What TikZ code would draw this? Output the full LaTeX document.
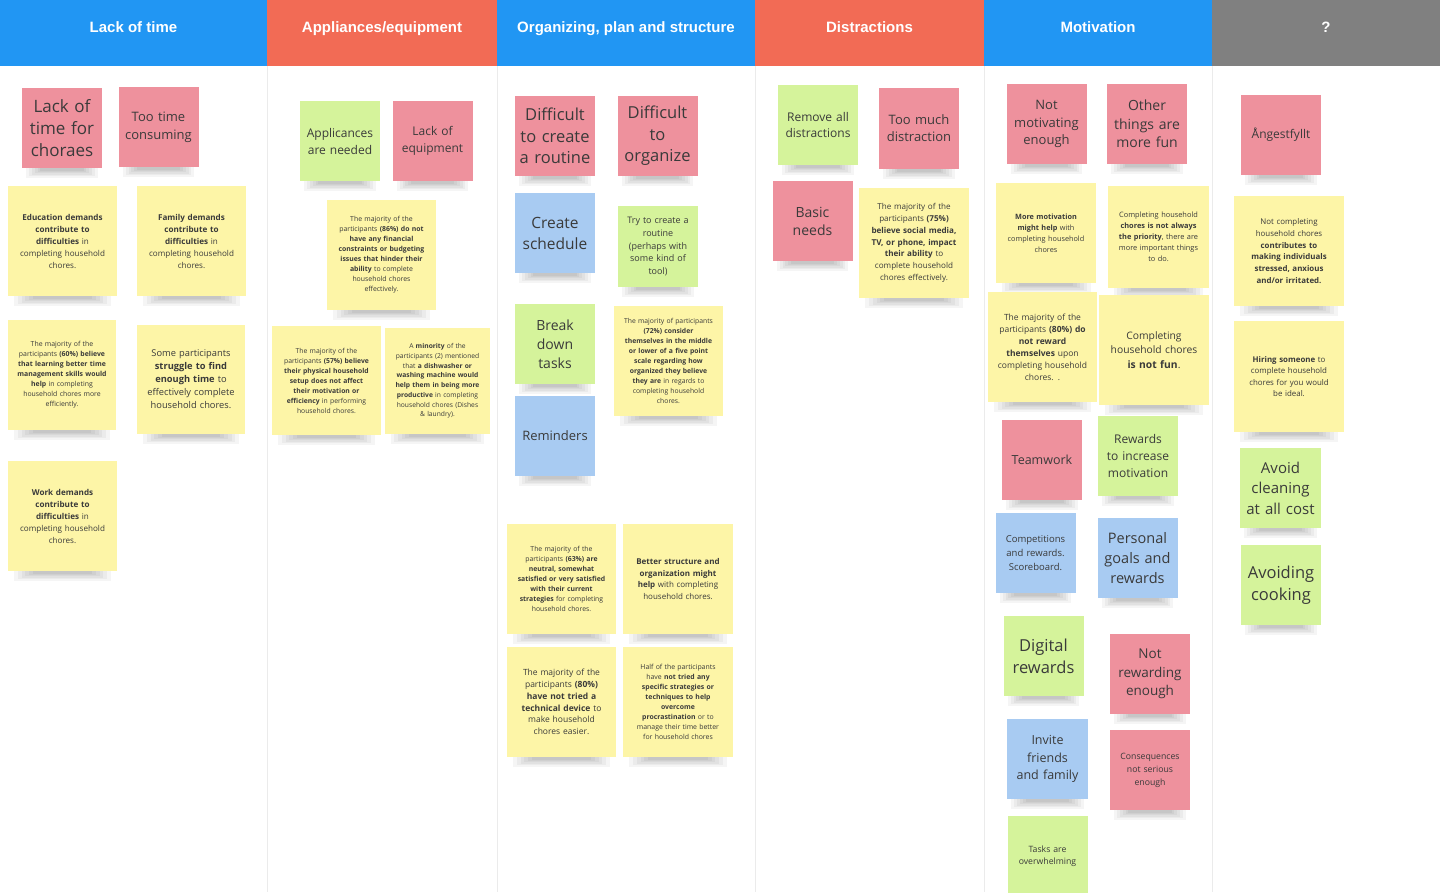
\documentclass[tikz,border=0pt]{standalone}
\usepackage{fontspec}
\setmainfont{Open Sans}
\newfontfamily\hdrfont{Liberation Sans}
\definecolor{hblue}{HTML}{2196F3}
\definecolor{hred}{HTML}{F26B55}
\definecolor{hgray}{HTML}{808080}
\definecolor{npink}{HTML}{EE919D}
\definecolor{nyellow}{HTML}{FDF5A7}
\definecolor{ngreen}{HTML}{D5F39B}
\definecolor{nblue}{HTML}{A8CBF2}
\definecolor{ntext}{HTML}{3A3A3A}
\definecolor{sepline}{HTML}{EBEBEB}
\newcommand{\fs}[2]{\fontsize{#1}{#2}\selectfont}
\tikzset{
  x=1pt, y=-1pt,
  hdrtext/.style={text=white, anchor=base, font=\hdrfont\bfseries\fontsize{15}{17}\selectfont},
  sticknode/.style={inner sep=0pt, align=center, text=ntext},
  sepstyle/.style={draw=sepline, line width=1pt},
}
\newcommand{\sticky}[8]{%
  \foreach \i in {1,...,6}{%
    \fill[black,opacity=.04] ({#3-(0.48-0.035*\i)*#5},{#4+0.5*#6-2}) rectangle ({#3+(0.48-0.035*\i)*#5},{#4+0.5*#6+11-1.4*\i});
  }%
  \node[sticknode, fill=#2, minimum width=#5pt, minimum height=#6pt, text width={#5pt-4pt}, font=#7] (#1) at (#3,#4) {#8};
}
\begin{document}
\begin{tikzpicture}
\useasboundingbox (0,0) rectangle (1440,892);
\fill[white] (0,0) rectangle (1440,892);
% headers
\fill[hblue] (0,0) rectangle (267,66);
\fill[hred] (267,0) rectangle (497,66);
\fill[hblue] (497,0) rectangle (755,66);
\fill[hred] (755,0) rectangle (984,66);
\fill[hblue] (984,0) rectangle (1212,66);
\fill[hgray] (1212,0) rectangle (1440,66);
\node[hdrtext] (h1) at (133.5,32) {Lack of time};
\node[hdrtext] (h2) at (382,32) {Appliances/equipment};
\node[hdrtext] (h3) at (626,32) {Organizing, plan and structure};
\node[hdrtext] (h4) at (869.5,32) {Distractions};
\node[hdrtext] (h5) at (1098,32) {Motivation};
\node[hdrtext] (h6) at (1326,32) {?};
% column separators
\foreach \xx in {267,497,755,984,1212} \draw[sepstyle] (\xx,66) -- (\xx,892);

% Column 1
\sticky{a1}{npink}{62}{128}{80}{80}{\fs{17}{22}}{Lack of\\time for\\choraes}
\sticky{a2}{npink}{158.5}{127}{80}{80}{\fs{13}{18}}{Too time\\consuming}
\sticky{a3}{nyellow}{62.5}{241}{109}{110}{\fs{8.1}{12}}{\textbf{Education demands}\\\textbf{contribute to}\\\textbf{difficulties} in\\completing household\\chores.}
\sticky{a4}{nyellow}{191.5}{241}{109}{110}{\fs{8.1}{12}}{\textbf{Family demands}\\\textbf{contribute to}\\\textbf{difficulties} in\\completing household\\chores.}
\sticky{a5}{nyellow}{62}{375}{108}{110}{\fs{6.9}{10}}{The majority of the\\participants \textbf{(60\%) believe}\\\textbf{that learning better time}\\\textbf{management skills would}\\\textbf{help} in completing\\household chores more\\efficiently.}
\sticky{a6}{nyellow}{191}{379.5}{108}{109}{\fs{9.3}{13}}{Some participants\\\textbf{struggle to find}\\\textbf{enough time} to\\effectively complete\\household chores.}
\sticky{a7}{nyellow}{62.5}{516}{109}{110}{\fs{8.1}{12}}{\textbf{Work demands}\\\textbf{contribute to}\\\textbf{difficulties} in\\completing household\\chores.}

% Column 2
\sticky{b1}{ngreen}{340}{141}{80}{80}{\fs{12}{17}}{Applicances\\are needed}
\sticky{b2}{npink}{432.5}{141}{80}{80}{\fs{12}{17}}{Lack of\\equipment}
\sticky{b3}{nyellow}{381.5}{255}{109}{110}{\fs{6.9}{10}}{The majority of the\\participants \textbf{(86\%) do not}\\\textbf{have any financial}\\\textbf{constraints or budgeting}\\\textbf{issues that hinder their}\\\textbf{ability} to complete\\household chores\\effectively.}
\sticky{b4}{nyellow}{326.5}{380.5}{109}{109}{\fs{6.8}{10}}{The majority of the\\participants \textbf{(57\%) believe}\\\textbf{their physical household}\\\textbf{setup does not affect}\\\textbf{their motivation or}\\\textbf{efficiency} in performing\\household chores.}
\sticky{b5}{nyellow}{437.5}{381}{105}{106}{\fs{6.7}{9.7}}{A \textbf{minority} of the\\participants (2) mentioned\\that \textbf{a dishwasher or}\\\textbf{washing machine would}\\\textbf{help them in being more}\\\textbf{productive} in completing\\household chores (Dishes\\\& laundry).}

% Column 3
\sticky{c1}{npink}{555}{136}{80}{80}{\fs{16.5}{21.5}}{Difficult\\to create\\a routine}
\sticky{c2}{npink}{657.5}{136}{80}{80}{\fs{16.5}{21.5}}{Difficult\\to\\organize}
\sticky{c3}{nblue}{555}{233}{80}{80}{\fs{15.5}{21}}{Create\\schedule}
\sticky{c4}{ngreen}{658}{246.5}{80}{81}{\fs{9}{12.7}}{Try to create a\\routine\\(perhaps with\\some kind of\\tool)}
\sticky{c5}{ngreen}{555}{344}{80}{80}{\fs{14}{19}}{Break\\down\\tasks}
\sticky{c6}{nyellow}{668.5}{361}{109}{110}{\fs{6.8}{10}}{The majority of participants\\\textbf{(72\%) consider}\\\textbf{themselves in the middle}\\\textbf{or lower of a five point}\\\textbf{scale regarding how}\\\textbf{organized they believe}\\\textbf{they are} in regards to\\completing household\\chores.}
\sticky{c7}{nblue}{555}{436}{80}{80}{\fs{13}{17}}{Reminders}
\sticky{c8}{nyellow}{561.5}{579}{109}{110}{\fs{6.85}{10}}{The majority of the\\participants \textbf{(63\%) are}\\\textbf{neutral, somewhat}\\\textbf{satisfied or very satisfied}\\\textbf{with their current}\\\textbf{strategies} for completing\\household chores.}
\sticky{c9}{nyellow}{678}{579}{110}{110}{\fs{8}{11.5}}{\textbf{Better structure and}\\\textbf{organization might}\\\textbf{help} with completing\\household chores.}
\sticky{c10}{nyellow}{561.5}{702}{109}{110}{\fs{8.5}{11.8}}{The majority of the\\participants \textbf{(80\%)}\\\textbf{have not tried a}\\\textbf{technical device} to\\make household\\chores easier.}
\sticky{c11}{nyellow}{678}{702}{110}{110}{\fs{6.9}{10}}{Half of the participants\\have \textbf{not tried any}\\\textbf{specific strategies or}\\\textbf{techniques to help}\\\textbf{overcome}\\\textbf{procrastination} or to\\manage their time better\\for household chores}

% Column 4
\sticky{d1}{ngreen}{818}{125}{80}{80}{\fs{12}{16}}{Remove all\\distractions}
\sticky{d2}{npink}{919}{128.5}{80}{81}{\fs{13}{17}}{Too much\\distraction}
\sticky{d3}{npink}{812.5}{221}{80}{80}{\fs{14}{18}}{Basic\\needs}
\sticky{d4}{nyellow}{914}{243}{110}{110}{\fs{8.1}{11.8}}{The majority of the\\participants \textbf{(75\%)}\\\textbf{believe social media,}\\\textbf{TV, or phone, impact}\\\textbf{their ability} to\\complete household\\chores effectively.}

% Column 5
\sticky{e1}{npink}{1046.5}{124}{80}{80}{\fs{13}{17.5}}{Not\\motivating\\enough}
\sticky{e2}{npink}{1147}{124}{80}{80}{\fs{14}{18.5}}{Other\\things are\\more fun}
\sticky{e3}{nyellow}{1046}{233}{100}{100}{\fs{7.3}{11}}{\textbf{More motivation}\\\textbf{might help} with\\completing household\\chores}
\sticky{e4}{nyellow}{1158.5}{237}{101}{102}{\fs{7.4}{11}}{Completing household\\\textbf{chores is not always}\\\textbf{the priority}, there are\\more important things\\to do.}
\sticky{e5}{nyellow}{1042.5}{347}{109}{110}{\fs{8.5}{12}}{The majority of the\\participants \textbf{(80\%) do}\\\textbf{not reward}\\\textbf{themselves} upon\\completing household\\chores. .}
\sticky{e6}{nyellow}{1154}{350}{110}{110}{\fs{10.3}{14.5}}{Completing\\household chores\\\textbf{is not fun}.}
\sticky{e7}{npink}{1042}{460}{80}{80}{\fs{12.5}{17}}{Teamwork}
\sticky{e8}{ngreen}{1138}{456}{80}{80}{\fs{12}{17}}{Rewards\\to increase\\motivation}
\sticky{e9}{nblue}{1035.5}{553}{80}{80}{\fs{9.5}{14}}{Competitions\\and rewards.\\Scoreboard.}
\sticky{e10}{nblue}{1137.5}{558}{80}{80}{\fs{14.5}{20}}{Personal\\goals and\\rewards}
\sticky{e11}{ngreen}{1043.5}{656}{80}{80}{\fs{16.5}{22}}{Digital\\rewards}
\sticky{e12}{npink}{1150}{674}{80}{80}{\fs{13.5}{18.5}}{Not\\rewarding\\enough}
\sticky{e13}{nblue}{1047.5}{759}{81}{80}{\fs{12.5}{17.5}}{Invite\\friends\\and family}
\sticky{e14}{npink}{1150}{770}{80}{80}{\fs{8.7}{13}}{Consequences\\not serious\\enough}
\sticky{e15}{ngreen}{1047.5}{856}{80}{80}{\fs{8.7}{12}}{Tasks are\\overwhelming}

% Column 6
\sticky{f1}{npink}{1281}{135}{80}{80}{\fs{12}{17}}{Ångestfyllt}
\sticky{f2}{nyellow}{1289}{251}{110}{110}{\fs{7.9}{11.8}}{Not completing\\household chores\\\textbf{contributes to}\\\textbf{making individuals}\\\textbf{stressed, anxious}\\\textbf{and/or irritated.}}
\sticky{f3}{nyellow}{1289}{376.5}{110}{111}{\fs{7.9}{11.5}}{\textbf{Hiring someone} to\\complete household\\chores for you would\\be ideal.}
\sticky{f4}{ngreen}{1280.5}{488}{81}{80}{\fs{15}{20.5}}{Avoid\\cleaning\\at all cost}
\sticky{f5}{ngreen}{1281}{585}{80}{80}{\fs{16.5}{22}}{Avoiding\\cooking}
\end{tikzpicture}
\end{document}
